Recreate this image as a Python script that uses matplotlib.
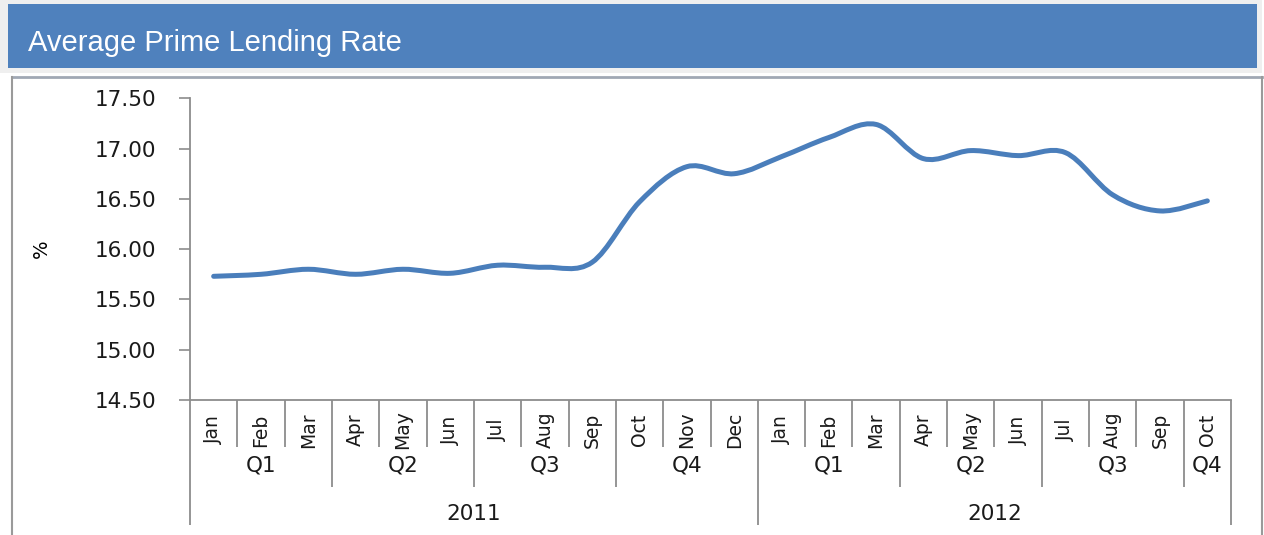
import numpy as np
import matplotlib
matplotlib.use("Agg")
import matplotlib.pyplot as plt
from matplotlib.path import Path
from matplotlib.patches import PathPatch, Rectangle
from matplotlib.lines import Line2D

# ---------------- data ----------------
months = ["Jan", "Feb", "Mar", "Apr", "May", "Jun", "Jul", "Aug", "Sep", "Oct", "Nov", "Dec",
          "Jan", "Feb", "Mar", "Apr", "May", "Jun", "Jul", "Aug", "Sep", "Oct"]
quarters = ["Q1", "Q2", "Q3", "Q4", "Q1", "Q2", "Q3", "Q4"]
quarter_sizes = [3, 3, 3, 3, 3, 3, 3, 1]
years = ["2011", "2012"]
year_sizes = [12, 10]
rates = [15.73, 15.75, 15.80, 15.75, 15.80, 15.76, 15.84, 15.82, 15.87, 16.47, 16.82, 16.75,
         16.92, 17.11, 17.24, 16.90, 16.98, 16.93, 16.96, 16.54, 16.38, 16.48]
yticks = [14.5, 15.0, 15.5, 16.0, 16.5, 17.0, 17.5]
title = "Average Prime Lending Rate"
ylabel = "%"

# ---------------- figure ----------------
W, H = 1264, 535
fig = plt.figure(figsize=(W / 100, H / 100), dpi=100)
fig.patch.set_facecolor("white")

def fx(x):
    return x / W

def fy(y):
    return 1 - y / H

# header band
fig.patches.append(Rectangle((0, fy(73)), fx(1262), 1 - fy(73), transform=fig.transFigure,
                             facecolor="#EFEFEF", edgecolor="none", zorder=0))
fig.patches.append(Rectangle((fx(8), fy(68)), fx(1257) - fx(8), fy(4) - fy(68),
                             transform=fig.transFigure, facecolor="#4F81BD", edgecolor="none", zorder=1))
fig.text(fx(28), fy(51), title, color="white", fontsize=21, family="Liberation Sans",
         ha="left", va="baseline")
# frame lines
frame_col = "#9A9A9A"
fig.lines.append(Line2D([fx(12), fx(1262)], [fy(77), fy(77)], transform=fig.transFigure,
                        color="#A0A8B4", lw=2))
fig.lines.append(Line2D([fx(12), fx(12)], [fy(77), 0], transform=fig.transFigure,
                        color=frame_col, lw=1.5))
fig.lines.append(Line2D([fx(1262), fx(1262)], [fy(77), 0], transform=fig.transFigure,
                        color=frame_col, lw=1.5))

# axes
left, right = 190, 1231
top, bottom = 98.3, 400
ax = fig.add_axes([fx(left), fy(bottom), fx(right) - fx(left), fy(top) - fy(bottom)])
ax.set_facecolor("none")
n = len(rates)
ax.set_xlim(-0.5, n - 0.5)
ax.set_ylim(14.5, 17.5)

axis_col = "#8C8C8C"
for s in ["top", "right"]:
    ax.spines[s].set_visible(False)
for s in ["left", "bottom"]:
    ax.spines[s].set_color(axis_col)
    ax.spines[s].set_linewidth(1.3)

ax.set_yticks(yticks)
ax.set_yticklabels([f"{v:.2f}" for v in yticks])
ax.tick_params(axis="y", direction="out", length=8, width=1.2, color=axis_col, pad=16,
               labelsize=15.5, labelcolor="#1a1a1a")
ax.set_xticks([])
for lab in ax.get_yticklabels():
    lab.set_family("DejaVu Sans")
ax.set_ylabel(ylabel, fontsize=14, family="DejaVu Sans", labelpad=0)
ax.yaxis.set_label_coords(-0.134, 0.5)

# smoothed line (Catmull-Rom style Bezier, as Excel smoothing)
x = np.arange(n, dtype=float)
y = np.array(rates, dtype=float)
verts = [(x[0], y[0])]
codes = [Path.MOVETO]
for i in range(n - 1):
    p0x, p0y = (x[i - 1], y[i - 1]) if i > 0 else (x[i], y[i])
    p3x, p3y = (x[i + 2], y[i + 2]) if i + 2 < n else (x[i + 1], y[i + 1])
    c1 = (x[i] + (x[i + 1] - p0x) / 6, y[i] + (y[i + 1] - p0y) / 6)
    c2 = (x[i + 1] - (p3x - x[i]) / 6, y[i + 1] - (p3y - y[i]) / 6)
    verts += [c1, c2, (x[i + 1], y[i + 1])]
    codes += [Path.CURVE4] * 3
ax.add_patch(PathPatch(Path(verts, codes), facecolor="none", edgecolor="#4A7EBB",
                       lw=3.6, capstyle="round", joinstyle="round", zorder=3))

# multi-level category axis
tr = ax.get_xaxis_transform()
ax_h = bottom - top
def axy(py):
    return -(py - bottom) / ax_h

month_bottom = axy(447)
quarter_bottom = axy(487)
year_bottom = axy(525)

quarter_bounds = np.cumsum([0] + quarter_sizes)
year_bounds = np.cumsum([0] + year_sizes)
for k in range(n + 1):
    if k in year_bounds:
        yb = year_bottom
    elif k in quarter_bounds:
        yb = quarter_bottom
    else:
        yb = month_bottom
    ax.plot([k - 0.5, k - 0.5], [0, yb], transform=tr, color=axis_col, lw=1.3,
            clip_on=False, solid_capstyle="butt")

for i, m in enumerate(months):
    ax.text(i, axy(430), m, transform=tr, rotation=90, ha="center", va="center",
            fontsize=13.5, family="DejaVu Sans", color="#1a1a1a")
for qi, q in enumerate(quarters):
    c = (quarter_bounds[qi] + quarter_bounds[qi + 1]) / 2 - 0.5
    ax.text(c, axy(466), q, transform=tr, ha="center", va="center",
            fontsize=15.5, family="DejaVu Sans", color="#1a1a1a")
for yi, yr in enumerate(years):
    c = (year_bounds[yi] + year_bounds[yi + 1]) / 2 - 0.5
    ax.text(c, axy(514), yr, transform=tr, ha="center", va="center",
            fontsize=15.5, family="DejaVu Sans", color="#1a1a1a")

fig.savefig("out.png", dpi=100)
